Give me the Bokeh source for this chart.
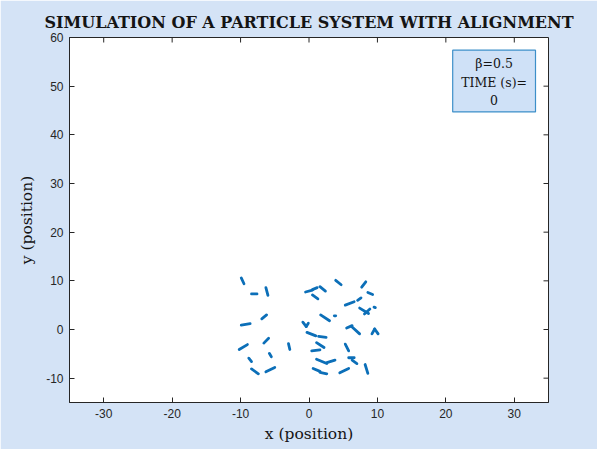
from bokeh.plotting import figure
from bokeh.models import (ColumnDataSource, FixedTicker, Range1d, BoxAnnotation, Label,
                          PrintfTickFormatter)
from bokeh.embed import file_html
from bokeh.resources import INLINE

# particle segments (start -> end) in data units
x0 = [-9.9, -8.4, -6.3, -0.5, 0.5, 1.6, 0.5, 3.9, 8.3, 8.6, 5.3, 7.1, 7.4, 8.1, 9.5,
      -9.9, -6.9, 1.7, 3.7, -0.9, -0.4, -0.3, 1.4, 5.5, 6.3, 9.6, 9.6,
      -10.2, -6.6, -3.0, 1.1, 0.4, 5.3, -8.8, -5.8, 1.1, 2.6, 5.8, 6.3,
      -8.4, -6.3, 0.6, 1.6, 4.5, 8.2]
y0 = [10.6, 7.3, 8.6, 7.7, 8.2, 8.8, 7.1, 10.1, 9.8, 7.6, 5.0, 6.0, 4.4, 3.2, 4.6,
      0.9, 2.2, 3.0, 2.8, 1.5, 0.6, -0.6, -1.4, 0.3, 0.5, 0.1, 0.1,
      -4.1, -2.8, -2.9, -2.7, -4.4, -3.0, -5.9, -4.9, -6.1, -6.8, -5.8, -6.3,
      -8.1, -8.7, -8.0, -8.8, -8.9, -7.2]
x1 = [-9.5, -7.6, -6.0, 0.5, 1.2, 2.4, 1.3, 4.7, 7.7, 9.3, 6.6, 7.6, 8.7, 8.9, 9.7,
      -8.6, -6.2, 3.0, 3.9, -0.4, -0.1, 1.0, 2.5, 6.3, 7.4, 9.2, 10.1,
      -9.0, -5.9, -2.8, 2.2, 1.6, 5.8, -8.4, -5.5, 2.6, 3.8, 6.6, 7.0,
      -7.4, -5.0, 1.6, 2.6, 5.8, 8.6]
y1 = [9.4, 7.3, 7.0, 8.1, 8.6, 7.9, 6.3, 9.2, 8.7, 7.2, 5.7, 6.5, 3.3, 4.2, 4.5,
      1.2, 3.0, 1.8, 2.8, 0.6, 1.3, -1.3, -1.6, 0.8, -0.9, -0.9, -0.9,
      -3.1, -1.8, -4.1, -3.7, -4.2, -4.4, -6.6, -5.6, -7.0, -6.3, -5.8, -7.0,
      -9.1, -7.8, -8.6, -9.1, -8.0, -9.0]

x_ticks = [-30, -20, -10, 0, 10, 20, 30]
y_ticks = [-10, 0, 10, 20, 30, 40, 50, 60]
x_lim = (-35, 35)
y_lim = (-15, 60)

title_text = "SIMULATION OF A PARTICLE SYSTEM WITH ALIGNMENT"
info_lines = ["\u03b2=0.5", "TIME (s)=", "0"]

BG = "#d4e3f6"
DARK = "#262626"

W, H = 597, 449
BL, BR, BT, BB = 69, 49, 37, 47
PW, PH = W - BL - BR, H - BT - BB
TICK = 5

p = figure(width=W, height=H, output_backend="svg", toolbar_location=None,
           x_range=Range1d(*x_lim), y_range=Range1d(*y_lim),
           min_border_left=BL, min_border_right=BR, min_border_top=BT, min_border_bottom=BB)
p.border_fill_color = BG
p.background_fill_color = "white"
p.outline_line_color = DARK
p.outline_line_width = 1
p.grid.visible = False

p.title.text = title_text
p.title.align = "center"
p.title.text_font = "DejaVu Serif"
p.title.text_font_style = "bold"
p.title.text_font_size = "16px"
p.title.text_color = "#141414"
p.title.standoff = 12

for ax, ticks in ((p.xaxis[0], x_ticks), (p.yaxis[0], y_ticks)):
    ax.ticker = FixedTicker(ticks=ticks)
    ax.formatter = PrintfTickFormatter(format="%d")
    ax.minor_tick_line_color = None
    ax.major_tick_in = TICK
    ax.major_tick_out = 0
    ax.major_tick_line_color = DARK
    ax.axis_line_color = DARK
    ax.major_label_text_font = "Liberation Sans"
    ax.major_label_text_font_size = "12px"
    ax.major_label_text_color = DARK
    ax.axis_label_text_font = "DejaVu Serif"
    ax.axis_label_text_font_size = "15.5px"
    ax.axis_label_text_font_style = "normal"
    ax.axis_label_text_color = "#141414"

p.xaxis[0].axis_label = "x (position)"
p.yaxis[0].axis_label = "y (position)"
p.xaxis[0].major_label_standoff = 6
p.yaxis[0].major_label_standoff = 6
p.xaxis[0].axis_label_standoff = 4
p.yaxis[0].axis_label_standoff = 7

# inward ticks on the top and right edges of the box
dy = (y_lim[1] - y_lim[0]) * TICK / PH
dx = (x_lim[1] - x_lim[0]) * TICK / PW
p.segment(x0=x_ticks, y0=[y_lim[1]] * len(x_ticks), x1=x_ticks, y1=[y_lim[1] - dy] * len(x_ticks),
          line_color=DARK, line_width=1)
p.segment(x0=[x_lim[1]] * len(y_ticks), y0=y_ticks, x1=[x_lim[1] - dx] * len(y_ticks), y1=y_ticks,
          line_color=DARK, line_width=1)

src = ColumnDataSource(dict(x0=x0, y0=y0, x1=x1, y1=y1))
p.segment("x0", "y0", "x1", "y1", source=src, line_color="#0c6fb8", line_width=2.8, line_cap="round")

box = BoxAnnotation(left=21.0, right=33.1, top=57.4, bottom=44.7,
                    fill_color="#cfe1f7", fill_alpha=1.0, line_color="#3d8fc9",
                    line_alpha=1.0, line_width=1.2)
p.add_layout(box)
for txt, yy in zip(info_lines, [54.6, 50.8, 47.1]):
    p.add_layout(Label(x=27.05, y=yy, text=txt, text_align="center", text_baseline="middle",
                       text_font="DejaVu Serif", text_font_size="12.5px", text_color="#141414"))

open("out.html", "w").write(file_html(p, INLINE))
